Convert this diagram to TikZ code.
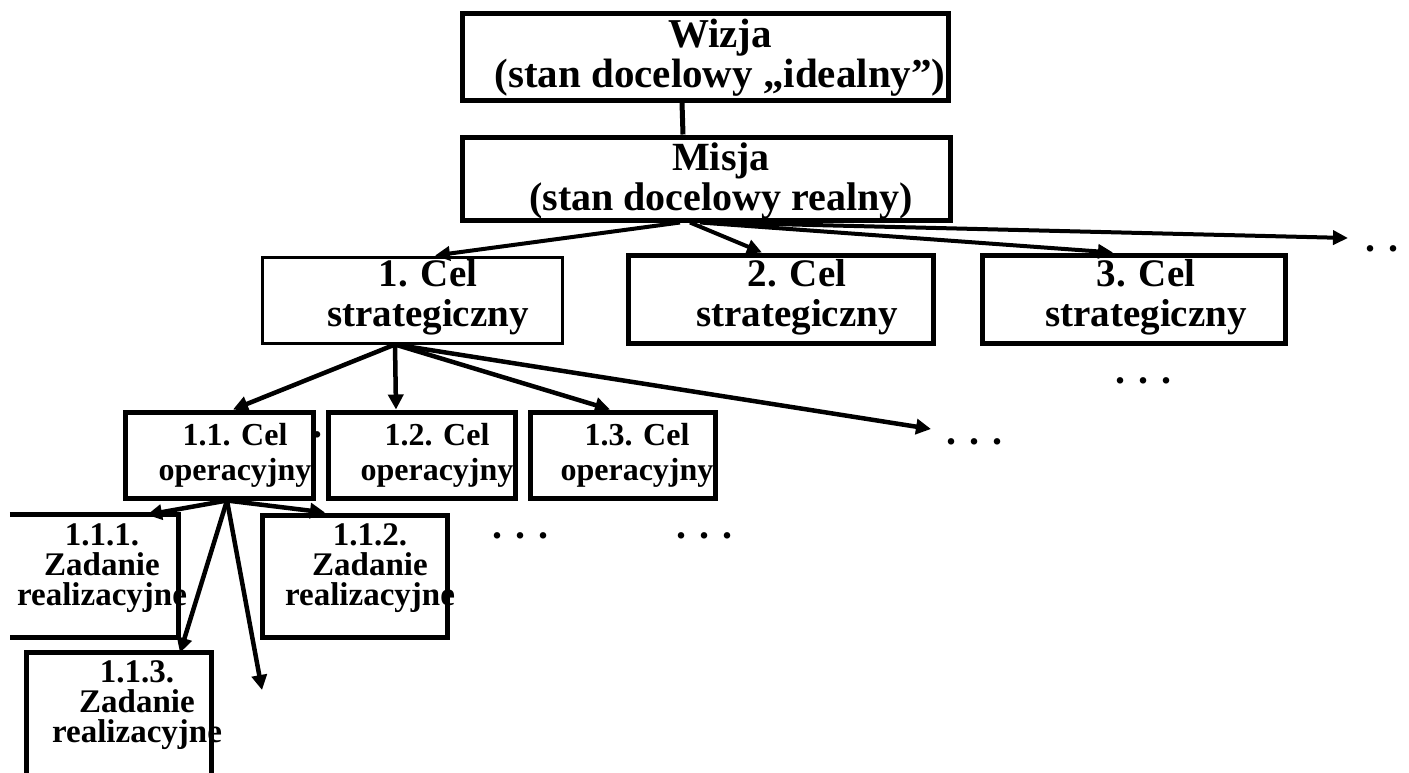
\documentclass[tikz,border=0pt]{standalone}
\usepackage{fontspec}
\setmainfont{Liberation Serif}
\usetikzlibrary{arrows.meta}
\tikzset{
  box/.style={draw, line width=5pt, rectangle, inner sep=0pt},
  thinbox/.style={box, line width=3pt},
  openbox/.style={rectangle, inner sep=0pt},
  boxline/.style={line width=5pt},
  arr/.style={line width=4.5pt, -{Triangle[length=15pt,width=15pt]}},
  harr/.style={line width=4pt, -{Triangle[length=15pt,width=14pt]}},
  txt/.style={inner sep=0pt, anchor=base, align=center},
  fwz/.style={font={\bfseries\fontsize{41}{40}\selectfont}},
  fms/.style={font={\bfseries\fontsize{40}{40}\selectfont}},
  fcs/.style={font={\bfseries\fontsize{39}{40}\selectfont}},
  fco/.style={font={\bfseries\fontsize{32}{35}\selectfont}},
  fzr/.style={font={\bfseries\fontsize{33}{30}\selectfont}},
  dots/.style={inner sep=0pt, anchor=base west, font={\bfseries\fontsize{40}{40}\selectfont}},
}
\begin{document}
\begin{tikzpicture}[x=1pt, y=-1pt]
\fill[white] (0,0) rectangle (1409,772);
\useasboundingbox (0,0) rectangle (1409,772);

% boxes
\node[box, minimum width=486pt, minimum height=87pt] (wizja) at (705,56.5) {};
\node[box, minimum width=488pt, minimum height=83pt] (misja) at (706,178.5) {};
\node[thinbox, minimum width=300pt, minimum height=86pt] (cel1) at (412,300) {};
\node[box, minimum width=305pt, minimum height=88pt] (cel2) at (780.5,299) {};
\node[box, minimum width=303pt, minimum height=88pt] (cel3) at (1133.5,299) {};
\node[box, minimum width=188pt, minimum height=86pt] (op1) at (219,455) {};
\node[box, minimum width=187pt, minimum height=86pt] (op2) at (421.5,455) {};
\node[box, minimum width=185pt, minimum height=86pt] (op3) at (622.5,455) {};
\node[openbox, minimum width=168pt, minimum height=122pt] (z1) at (94,576) {};
\draw[boxline] (z1.north west) -- (z1.north east) -- (z1.south east) -- (z1.south west);
\node[box, minimum width=185pt, minimum height=122pt] (z2) at (354.5,576) {};
\node[openbox, minimum width=184pt, minimum height=137pt] (z3) at (119,721.5) {};
\draw[boxline] (z3.south west) -- (z3.north west) -- (z3.north east) -- (z3.south east);

% free ends
\coordinate (mdots) at (1348,238);
\coordinate (cdots) at (931,429);
\coordinate (ofree) at (262,690);

% connectors
\draw[line width=5pt] ([xshift=-23pt]wizja.south) -- ([xshift=-23pt]misja.north);
\draw[harr] ([xshift=-26pt]misja.south) -- ([xshift=23pt]cel1.north);
\draw[harr] ([xshift=-16pt]misja.south) -- ([xshift=-18.5pt]cel2.north);
\draw[harr] ([xshift=-6pt]misja.south) -- ([xshift=-20.5pt]cel3.north);
\draw[harr] ([xshift=4pt]misja.south) -- (mdots);

\draw[arr] ([xshift=-17pt]cel1.south) -- ([xshift=14pt]op1.north);
\draw[arr] ([xshift=-17pt]cel1.south) -- ([xshift=-25.5pt]op2.north);
\draw[arr] ([xshift=-17pt]cel1.south) -- ([xshift=-12.5pt]op3.north);
\draw[arr] ([xshift=-17pt]cel1.south) -- (cdots);

\draw[arr] ([xshift=8pt]op1.south) -- ([xshift=53pt]z1.north);
\draw[arr] ([xshift=8pt]op1.south) -- ([xshift=-29.5pt]z2.north);
\draw[arr] ([xshift=8pt]op1.south) -- ([xshift=61pt]z3.north);
\draw[arr] ([xshift=8pt]op1.south) -- (ofree);

% texts (anchor base = baseline of last line)
\node[txt, fwz] (wizjaT) at (720,87) {Wizja\\(stan docelowy „idealny”)};
\node[txt, fms] (misjaT) at (721,210) {Misja\\(stan docelowy realny)};
\node[txt, fcs] (cel1T) at (428,326) {1. Cel\\strategiczny};
\node[txt, fcs] (cel2T) at (797,326) {2. Cel\\strategiczny};
\node[txt, fcs] (cel3T) at (1146,326) {3. Cel\\strategiczny};
\node[txt, fco] (op1T) at (235,480) {1.1. Cel\\operacyjny};
\node[txt, fco] (op2T) at (437,480) {1.2. Cel\\operacyjny};
\node[txt, fco] (op3T) at (637,480) {1.3. Cel\\operacyjny};
\node[txt, fzr] (z1T) at (102,605) {1.1.1.\\Zadanie\\realizacyjne};
\node[txt, fzr] (z2T) at (370,605) {1.1.2.\\Zadanie\\realizacyjne};
\node[txt, fzr] (z3T) at (137,742) {1.1.3.\\Zadanie\\realizacyjne};

% dots
\node[dots] (d1) at (1365,251) {. . .};
\node[dots] (d2) at (1115,383) {. . .};
\node[dots] (d3) at (946,444) {. . .};
\node[dots] (d4) at (492,538) {. . .};
\node[dots] (d5) at (676,538) {. . .};
\node[dots] (d6) at (312,437) {.};
\end{tikzpicture}
\end{document}
